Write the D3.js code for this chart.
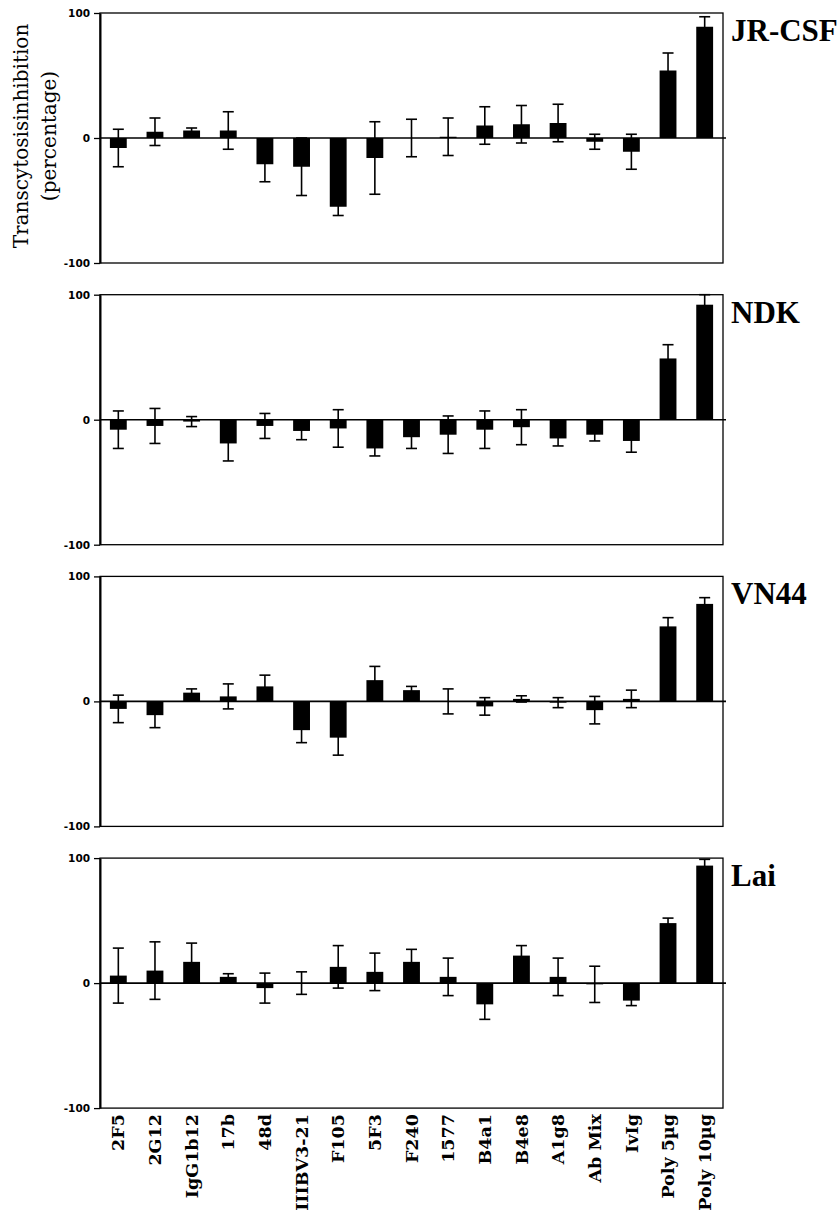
<!DOCTYPE html>
<html lang="en">
<meta charset="utf-8" />
<style>
    body {
        margin: 0;
        background: #fff;
    }

    .frame {
        fill: none;
        stroke: #000;
        stroke-width: 1.3px;
    }

    .axis path.domain {
        stroke-width: 2px;
    }

    .axis text {
        font-family: "DejaVu Sans", sans-serif;
        font-size: 10.5px;
        font-weight: bold;
        fill: #000;
    }

    .err {
        stroke: #000;
        stroke-width: 1.6px;
    }
</style>

<body>
<svg width="838" height="1215"></svg>
<script src="https://d3js.org/d3.v7.min.js"></script>
<script>
    // antibody / treatment names along the x axis
    var categories = ["2F5", "2G12", "IgG1b12", "17b", "48d", "IIIBV3-21", "F105", "5F3", "F240",
        "1577", "B4a1", "B4e8", "A1g8", "Ab Mix", "IvIg", "Poly 5\u00b5g", "Poly 10\u00b5g"]

    var viruses = ["JR-CSF", "NDK", "VN44", "Lai"]

    // mean inhibition (%) and error
    var jrcsfMean = [-8, 5, 6, 6, -21, -23, -55, -16, 0, 1, 10, 11, 12, -3, -11, 54, 89]
    var jrcsfErr = [15, 11, 2, 15, 14, 23, 7, 29, 15, 15, 15, 15, 15, 6, 14, 14, 8]

    var ndkMean = [-8, -5, -1.5, -19, -5, -9, -7, -23, -14, -12, -8, -6, -15, -12, -17, 49, 92]
    var ndkErr = [15, 14, 4, 14, 10, 7, 15, 6, 9, 15, 15, 14, 6, 5, 9, 11, 8]

    var vn44Mean = [-6, -11, 7, 4, 12, -23, -29, 17, 9, 0, -4, 2, -1, -7, 2, 60, 78]
    var vn44Err = [11, 10, 3, 10, 9, 10, 14, 11, 3, 10, 7, 2.5, 4, 11, 7, 7, 5]

    var laiMean = [6, 10, 17, 5, -4, 0, 13, 9, 17, 5, -17, 22, 5, -1, -14, 48, 94]
    var laiErr = [22, 23, 15, 2.5, 12, 9, 17, 15, 10, 15, 12, 8, 15, 14.5, 4, 4, 5]

    var yTicks = [-100, 0, 100]

    var means = [jrcsfMean, ndkMean, vn44Mean, laiMean]
    var errs = [jrcsfErr, ndkErr, vn44Err, laiErr]

    var svg = d3.select("svg")

    var left = 100,
        right = 723,
        panelH = 250,
        panelGap = 281.7,
        firstTop = 13

    var x = d3.scaleBand()
        .domain(categories)
        .range([left, right])
        .paddingInner(0.54)
        .paddingOuter(0.27)

    var capW = 11

    viruses.forEach(function(name, i) {
        var top = firstTop + i * panelGap
        var y = d3.scaleLinear()
            .domain([-100, 100])
            .range([top + panelH, top])

        var rows = categories.map(function(c, j) {
            return {
                cat: c,
                v: means[i][j],
                e: errs[i][j]
            }
        })

        var g = svg.append("g")

        // frame (top, right, bottom)
        g.append("rect")
            .attr("class", "frame")
            .attr("x", left)
            .attr("y", top)
            .attr("width", right - left)
            .attr("height", panelH)

        // error bars
        var eb = g.selectAll("g.eb")
            .data(rows)
            .enter()
            .append("g")
            .attr("class", "eb")
        eb.append("line")
            .attr("class", "err")
            .attr("x1", d => x(d.cat) + x.bandwidth() / 2)
            .attr("x2", d => x(d.cat) + x.bandwidth() / 2)
            .attr("y1", d => y(Math.min(100, d.v + d.e)))
            .attr("y2", d => y(d.v - d.e))
        eb.append("line")
            .attr("class", "err")
            .attr("x1", d => x(d.cat) + x.bandwidth() / 2 - capW / 2)
            .attr("x2", d => x(d.cat) + x.bandwidth() / 2 + capW / 2)
            .attr("y1", d => y(Math.min(100, d.v + d.e)))
            .attr("y2", d => y(Math.min(100, d.v + d.e)))
        eb.append("line")
            .attr("class", "err")
            .attr("x1", d => x(d.cat) + x.bandwidth() / 2 - capW / 2)
            .attr("x2", d => x(d.cat) + x.bandwidth() / 2 + capW / 2)
            .attr("y1", d => y(d.v - d.e))
            .attr("y2", d => y(d.v - d.e))

        // bars
        g.selectAll("rect.bar")
            .data(rows)
            .enter()
            .append("rect")
            .attr("class", "bar")
            .attr("x", d => x(d.cat))
            .attr("width", x.bandwidth())
            .attr("y", d => y(Math.max(0, d.v)))
            .attr("height", d => Math.abs(y(d.v) - y(0)))
            .attr("fill", "#000")

        // zero line
        g.append("line")
            .attr("x1", left)
            .attr("x2", right + 3)
            .attr("y1", y(0))
            .attr("y2", y(0))
            .attr("stroke", "#000")
            .attr("stroke-width", 1.6)

        // left axis
        g.append("g")
            .attr("class", "axis")
            .attr("transform", "translate(" + left + ",0)")
            .call(d3.axisLeft(y).tickValues(yTicks).tickFormat(d => String(d))
                .tickSize(6).tickPadding(4).tickSizeOuter(0))
            .call(a => a.selectAll(".tick line").attr("stroke-width", 1.3))

        // virus name
        g.append("text")
            .text(name)
            .attr("x", right + 8)
            .attr("y", top + 28)
            .attr("font-family", "'Liberation Serif', serif")
            .attr("font-weight", "bold")
            .attr("font-size", 31)
            .attr("fill", "#000")

        if (i == viruses.length - 1) {
            g.selectAll("text.cat")
                .data(categories)
                .enter()
                .append("text")
                .attr("class", "cat")
                .text(d => d)
                .attr("transform", d => "translate(" + (x(d) + x.bandwidth() / 2) + "," + (top + panelH + 6) + ") rotate(-90)")
                .attr("text-anchor", "end")
                .attr("dy", "0.35em")
                .attr("font-family", "'DejaVu Serif', serif")
                .attr("font-weight", "bold")
                .attr("font-size", 17.5)
                .attr("fill", "#000")
        }
    })

    // y axis title, first panel only
    var ty = firstTop + panelH / 2 - 2
    svg.append("text")
        .text("Transcytosisinhibition")
        .attr("transform", "translate(28," + ty + ") rotate(-90)")
        .attr("text-anchor", "middle")
        .attr("font-family", "'DejaVu Serif', serif")
        .attr("font-size", 20)
        .attr("fill", "#000")
    svg.append("text")
        .text("(percentage)")
        .attr("transform", "translate(56," + ty + ") rotate(-90)")
        .attr("text-anchor", "middle")
        .attr("font-family", "'DejaVu Serif', serif")
        .attr("font-size", 20)
        .attr("fill", "#000")
</script>
</body>

</html>
